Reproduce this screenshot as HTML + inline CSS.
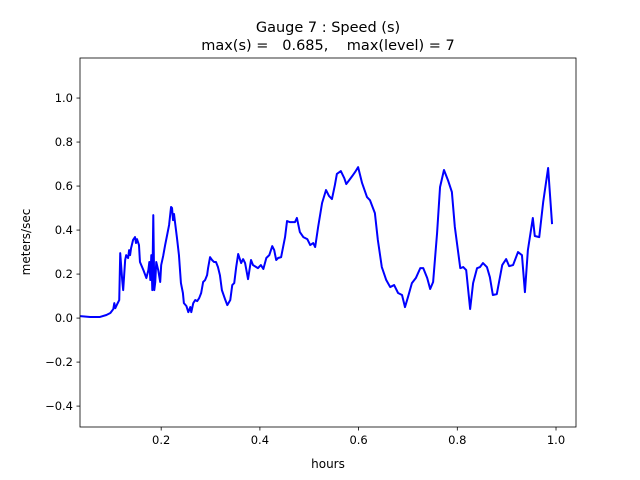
<!DOCTYPE html>
<html><head><meta charset="utf-8"><style>
html,body{margin:0;padding:0;background:#fff;}
svg{display:block;font-family:"DejaVu Sans","Liberation Sans",sans-serif;}
</style></head><body>
<svg id="chart" width="640" height="480" viewBox="0 0 640 480">
<rect width="640" height="480" fill="#fff"/>
<text x="328" y="32" font-size="14.5" text-anchor="middle" xml:space="preserve">Gauge 7 : Speed (s)</text>
<text x="328" y="50" font-size="14.5" text-anchor="middle" xml:space="preserve" style="white-space:pre">max(s) =   0.685,    max(level) = 7</text>
<g id="plot"></g>
<text x="328" y="468" font-size="12" text-anchor="middle">hours</text>
<text x="30" y="242" font-size="12" text-anchor="middle" transform="rotate(-90 30 242)">meters/sec</text>
</svg>
<script>
const hours = [0.036,0.056,0.076,0.089,0.097,0.103,0.105,0.107,0.111,0.115,0.117,0.121,0.123,0.127,0.129,0.133,0.135,0.137,0.139,0.143,0.147,0.149,0.151,0.155,0.157,0.164,0.170,0.174,0.176,0.178,0.180,0.182,0.184,0.186,0.188,0.190,0.194,0.198,0.200,0.204,0.208,0.212,0.216,0.220,0.222,0.224,0.226,0.228,0.232,0.236,0.240,0.244,0.246,0.251,0.255,0.259,0.261,0.265,0.269,0.273,0.277,0.281,0.285,0.289,0.293,0.295,0.299,0.303,0.307,0.311,0.315,0.319,0.323,0.330,0.334,0.340,0.344,0.348,0.352,0.356,0.362,0.366,0.370,0.376,0.382,0.386,0.396,0.402,0.407,0.413,0.419,0.425,0.429,0.433,0.437,0.443,0.447,0.451,0.455,0.461,0.471,0.475,0.481,0.488,0.496,0.502,0.508,0.512,0.518,0.526,0.534,0.540,0.546,0.552,0.556,0.564,0.571,0.575,0.581,0.587,0.593,0.599,0.607,0.617,0.623,0.633,0.639,0.647,0.656,0.664,0.672,0.680,0.688,0.694,0.700,0.708,0.716,0.725,0.731,0.739,0.745,0.751,0.759,0.765,0.773,0.781,0.789,0.795,0.806,0.812,0.818,0.826,0.832,0.840,0.846,0.852,0.860,0.866,0.872,0.880,0.891,0.899,0.905,0.913,0.923,0.931,0.937,0.943,0.953,0.957,0.966,0.974,0.984,0.992];
const speed = [0.009,0.005,0.005,0.014,0.023,0.041,0.068,0.045,0.064,0.082,0.295,0.173,0.127,0.264,0.286,0.273,0.309,0.286,0.318,0.355,0.368,0.341,0.359,0.332,0.255,0.218,0.182,0.218,0.255,0.173,0.286,0.127,0.468,0.127,0.164,0.255,0.218,0.164,0.241,0.282,0.332,0.377,0.423,0.505,0.500,0.445,0.473,0.436,0.364,0.286,0.159,0.114,0.068,0.055,0.027,0.050,0.027,0.068,0.082,0.077,0.091,0.114,0.164,0.173,0.195,0.227,0.277,0.264,0.255,0.255,0.232,0.195,0.127,0.082,0.059,0.082,0.150,0.159,0.232,0.291,0.250,0.268,0.250,0.177,0.264,0.241,0.227,0.241,0.223,0.273,0.286,0.327,0.309,0.264,0.273,0.277,0.323,0.368,0.441,0.436,0.436,0.455,0.391,0.368,0.359,0.332,0.341,0.323,0.414,0.523,0.582,0.555,0.541,0.605,0.655,0.668,0.636,0.609,0.627,0.645,0.664,0.686,0.614,0.550,0.536,0.477,0.355,0.232,0.173,0.141,0.150,0.114,0.105,0.050,0.095,0.159,0.182,0.227,0.227,0.182,0.132,0.164,0.386,0.595,0.673,0.627,0.573,0.414,0.227,0.232,0.218,0.041,0.159,0.227,0.232,0.250,0.232,0.186,0.105,0.109,0.241,0.268,0.236,0.241,0.300,0.286,0.118,0.309,0.455,0.373,0.368,0.527,0.682,0.427];
const xTicks = [0.2,0.4,0.6,0.8,1.0];
const xTickLabels = ["0.2","0.4","0.6","0.8","1.0"];
const yTicks = [-0.4,-0.2,0.0,0.2,0.4,0.6,0.8,1.0];
const yTickLabels = ["\u22120.4","\u22120.2","0.0","0.2","0.4","0.6","0.8","1.0"];

const L=80,R=576,T=58,B=427;
const xMin=0.0355,xMax=1.0405,yMin=-0.495,yMax=1.182;
function xs(v){return L+(v-xMin)/(xMax-xMin)*(R-L);}
function ys(v){return B-(v-yMin)/(yMax-yMin)*(B-T);}
const NS="http://www.w3.org/2000/svg";
const g=document.getElementById('plot');
function mk(t,a){const e=document.createElementNS(NS,t);for(const k in a)e.setAttribute(k,a[k]);g.appendChild(e);return e;}

let d="";
for(let i=0;i<hours.length;i++){d+=(i?"L":"M")+xs(hours[i]).toFixed(2)+" "+ys(speed[i]).toFixed(2);}
const line=mk('path',{d:d,fill:'none',stroke:'#0000ff','stroke-width':2,'stroke-linejoin':'round'});



xTicks.forEach((v,i)=>{
  const x=xs(v);
  const t=mk('line',{x1:x,x2:x,y1:B,y2:B+3.5,stroke:'#000','stroke-width':0.8});
  
  
  const l=mk('text',{x:x,y:B+17,'font-size':11.5,'text-anchor':'middle'});
  l.textContent=xTickLabels[i];
  
  
});
yTicks.forEach((v,i)=>{
  const y=ys(v);
  const t=mk('line',{x1:L-3.5,x2:L,y1:y,y2:y,stroke:'#000','stroke-width':0.8});
  
  
  const l=mk('text',{x:L-7,y:y+4,'font-size':11.5,'text-anchor':'end'});
  l.textContent=yTickLabels[i];
  
  
});
const fr=mk('rect',{x:L,y:T,width:R-L,height:B-T,fill:'none',stroke:'#000','stroke-width':0.8});


</script>
</body></html>
